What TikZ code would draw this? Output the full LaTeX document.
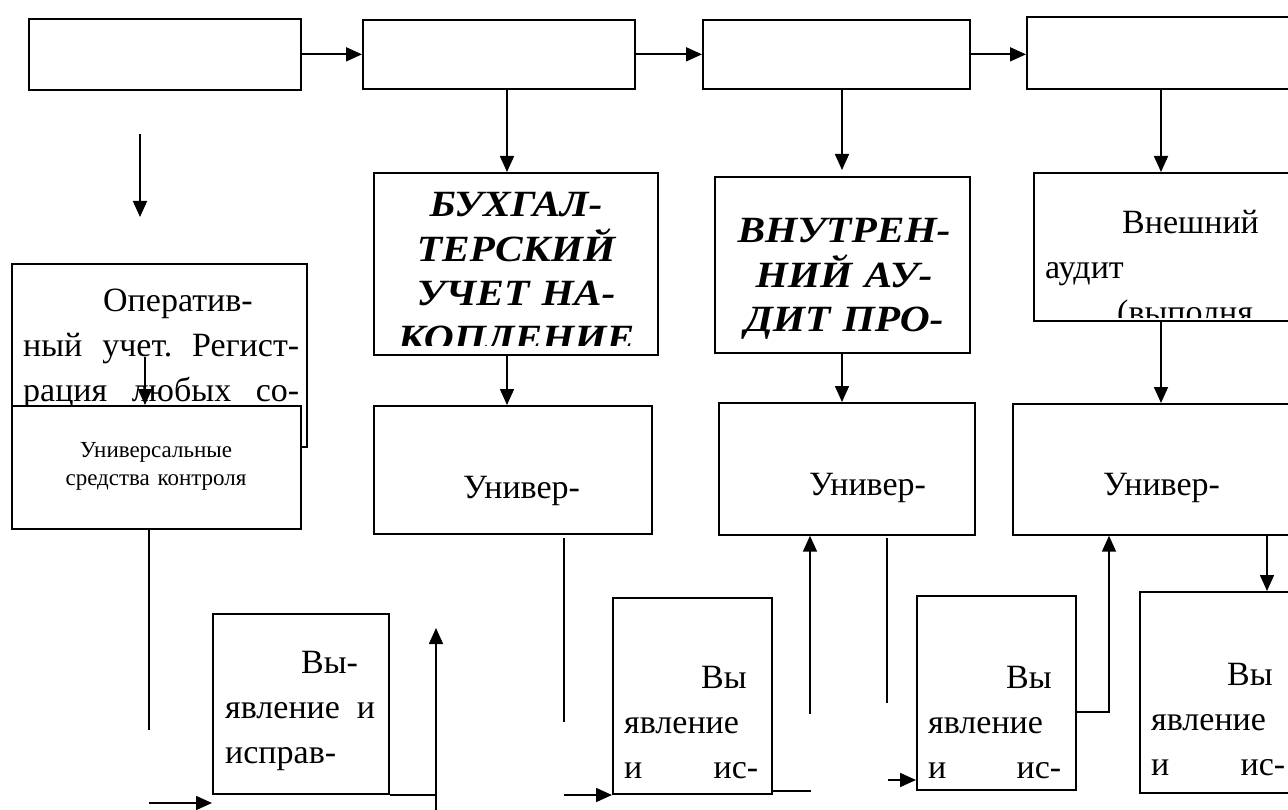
\documentclass[tikz,border=0pt]{standalone}
\usepackage{fontspec}
\setmainfont{Liberation Serif}
\newfontfamily\headfont[FakeStretch=1.12]{Liberation Serif}
\usepackage{tikz}
\usetikzlibrary{arrows.meta,calc}
\definecolor{Ink}{HTML}{000000}
\newcommand{\jl}[2]{\makebox[#1][s]{#2}}
\tikzset{
  box/.style={draw=Ink,line width=1.7pt,anchor=north west,inner sep=0pt,fill=white},
  body/.style={anchor=base west,inner sep=0pt,align=left,text=Ink,font=\fontsize{34}{45}\selectfont},
  boldbody/.style={anchor=base,inner sep=0pt,align=center,text=Ink,font=\headfont\fontsize{37}{44.5}\selectfont\bfseries\itshape},
  smallbody/.style={anchor=base,inner sep=0pt,align=center,text=Ink,font=\fontsize{23}{28}\selectfont},
  arrow/.style={-{Triangle[length=16pt,width=14pt]},line width=1.7pt,draw=Ink},
  link/.style={line width=1.7pt,draw=Ink}
}
\begin{document}
\begin{tikzpicture}[x=1pt,y=-1pt]
\clip (0,0) rectangle (1288,810);
% top row
\node[box,minimum width=272pt,minimum height=71pt] (t1) at (28,18) {};
\node[box,minimum width=272pt,minimum height=69pt] (t2) at (362,19) {};
\node[box,minimum width=267pt,minimum height=69pt] (t3) at (702,19) {};
\node[box,minimum width=300pt,minimum height=72pt] (t4) at (1026,16) {};
\draw[arrow] (t1.east) -- (t1.east -| t2.west);
\draw[arrow] (t2.east) -- (t2.east -| t3.west);
\draw[arrow] (t3.east) -- (t3.east -| t4.west);
% columns
\coordinate (c2) at (507,0);
\coordinate (c3) at (842,0);
\coordinate (c4) at (1161,0);
\coordinate (c5) at (1267,0);
\coordinate (d1) at (140,134);
\coordinate (d2) at (140,217);
\draw[arrow] (d1) -- (d2);
% second row
\node[box,minimum width=295pt,minimum height=183pt] (oper) at (11,263) {};
\node[body,text width=276pt] (opertxt) at (23,312) {\hspace*{80pt}Оператив-\\\jl{276pt}{ный\hfill учет.\hfill Регист-}\\\jl{276pt}{рация\hfill любых\hfill со-}};
\node[box,minimum width=284pt,minimum height=182pt] (bux) at (373,172) {};
\begin{scope}
\clip (bux.north west) rectangle ($(bux.south east)+(0,-10)$);
\node[boldbody,text width=284pt] (buxtxt) at (516,217) {БУХГАЛ-\\ТЕРСКИЙ\\УЧЕТ НА-\\КОПЛЕНИЕ};
\end{scope}
\node[box,minimum width=255pt,minimum height=176pt] (vnutr) at (714,176) {};
\node[boldbody,text width=255pt] (vnutrtxt) at (844,243) {ВНУТРЕН-\\НИЙ АУ-\\ДИТ ПРО-};
\node[box,minimum width=300pt,minimum height=148pt] (vnesh) at (1033,172) {};
\begin{scope}
\clip (vnesh.north west) rectangle ($(vnesh.south east)+(0,-4)$);
\node[body,text width=240pt] (vneshtxt) at (1045,234) {\hspace*{77pt}Внешний\\аудит\\\hspace*{72pt}(выполня};
\end{scope}
\draw[arrow] (t2.south -| c2) -- (bux.north -| c2);
\draw[arrow,shorten >=6pt] (t3.south -| c3) -- (vnutr.north -| c3);
\draw[arrow] (t4.south -| c4) -- (vnesh.north -| c4);
% third row
\node[box,minimum width=289pt,minimum height=123pt] (u1) at (11,405) {};
\node[smallbody,text width=280pt] (u1txt) at (156,457) {Универсальные\\средства контроля};
\coordinate (o1) at (145,357);
\draw[arrow] (o1) -- (o1 |- u1.north);
\node[box,minimum width=278pt,minimum height=128pt] (u2) at (373,405) {};
\node[body] (u2txt) at (463,498) {Универ-};
\node[box,minimum width=256pt,minimum height=132pt] (u3) at (718,402) {};
\node[body] (u3txt) at (809,495) {Универ-};
\node[box,minimum width=300pt,minimum height=131pt] (u4) at (1012,403) {};
\node[body] (u4txt) at (1103,495) {Универ-};
\draw[arrow] (bux.south -| c2) -- (u2.north -| c2);
\draw[arrow] (vnutr.south -| c3) -- (u3.north -| c3);
\draw[arrow] (vnesh.south -| c4) -- (u4.north -| c4);
% bottom row
\node[box,minimum width=176pt,minimum height=180pt] (b1) at (212,613) {};
\node[body,text width=150pt] (b1txt) at (225,673) {\hspace*{76pt}Вы-\\\jl{150pt}{явление\hfill и}\\исправ-};
\node[box,minimum width=159pt,minimum height=196pt] (b2) at (612,597) {};
\node[body,text width=134pt] (b2txt) at (624,688) {\hspace*{77pt}Вы\\явление\\\jl{134pt}{и\hfill ис-}};
\node[box,minimum width=159pt,minimum height=194pt] (b3) at (916,595) {};
\node[body,text width=133pt] (b3txt) at (928,688) {\hspace*{78pt}Вы\\явление\\\jl{133pt}{и\hfill ис-}};
\node[box,minimum width=200pt,minimum height=201pt] (b4) at (1139,591) {};
\node[body,text width=134pt] (b4txt) at (1151,685) {\hspace*{76pt}Вы\\явление\\\jl{134pt}{и\hfill ис-}};
% loose lines
\coordinate (s1) at (149,730);
\draw[link] (u1.south -| s1) -- (s1);
\coordinate (a1) at (149,803);
\draw[arrow] (a1) -- (a1 -| b1.west);
\coordinate (r1) at (436,795);
\coordinate (r1b) at (436,812);
\coordinate (r1t) at (436,628);
\draw[link] (b1.south east) -- (b1.south east -| r1);
\draw[arrow] (r1b) -- (r1t);
\coordinate (s2a) at (564,538);
\coordinate (s2b) at (564,722);
\draw[link] (s2a) -- (s2b);
\coordinate (a2) at (564,795);
\draw[arrow] (a2) -- (a2 -| b2.west);
\coordinate (r2) at (811,791);
\draw[link] (b2.east |- r2) -- (r2);
\coordinate (r2b) at (810,714);
\draw[arrow] (r2b) -- (r2b |- u3.south);
\coordinate (s3a) at (887,538);
\coordinate (s3b) at (887,703);
\draw[link] (s3a) -- (s3b);
\coordinate (a3) at (888,780);
\draw[arrow] (a3) -- (a3 -| b3.west);
\coordinate (r3) at (1109,712);
\draw[arrow] (b3.east |- r3) -| (r3 |- u4.south);
\draw[arrow] (u4.south -| c5) -- (b4.north -| c5);
\end{tikzpicture}
\end{document}
